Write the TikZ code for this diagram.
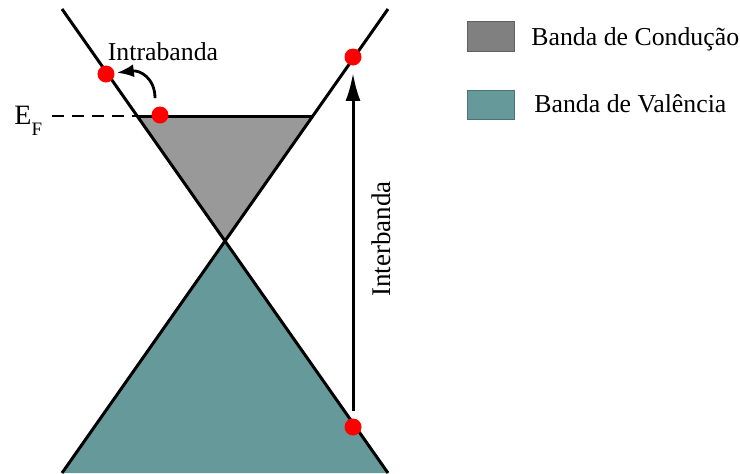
\documentclass[tikz,border=0pt]{standalone}
\usepackage{fontspec}
\setmainfont{Liberation Serif}
\usetikzlibrary{arrows.meta}
\definecolor{condgray}{RGB}{153,153,153}
\definecolor{legendgray}{RGB}{128,128,128}
\definecolor{valteal}{RGB}{102,153,153}

\begin{document}
\begin{tikzpicture}[
  x=0.5pt, y=-0.5pt,
  band/.style={draw=black, line width=1.5pt},
  electron/.style={circle, fill=red, inner sep=0pt, minimum size=8.5pt},
  arrow/.style={-{Latex[length=14pt,width=7.5pt]}, line width=1.5pt},
  smallarrow/.style={-{Latex[length=8.5pt,width=6.5pt]}, line width=1.4pt},
  txt/.style={font=\fontsize{12.9}{15}\selectfont, inner sep=0pt},
  legend/.style={draw=#1!75!black, fill=#1, line width=0.4pt, minimum width=23.5pt, minimum height=14.75pt, inner sep=0pt},
]
\useasboundingbox (0,0) rectangle (740,473);

% cone
\coordinate (vertex) at (225,241);
\coordinate (ltop) at (62,9);
\coordinate (rbot) at (388,473);
\coordinate (rtop) at (388,9);
\coordinate (lbot) at (62,473);
\coordinate (fl) at (137,116);
\coordinate (fr) at (313,116);
\coordinate (fdash) at (52,116);

\fill[condgray] (fl) -- (fr) -- (vertex) -- cycle;
\fill[valteal] (vertex) -- (rbot) -- (lbot) -- cycle;
\draw[band] (ltop) -- (rbot);
\draw[band] (rtop) -- (lbot);
\draw[band] (fl) -- (fr);
\draw[line width=1.2pt, dash pattern=on 6pt off 4pt] (fdash) -- (fl);

\node[txt, anchor=base west, font=\fontsize{14}{15}\selectfont] (efermi) at (14,124) {E\raisebox{-5.5pt}{\fontsize{9.5}{10}\selectfont F}};

% electrons
\node[electron] (intra0) at (106,74) {};
\node[electron] (intra1) at (160,115) {};
\node[electron] (inter1) at (353,57) {};
\node[electron] (inter0) at (353,427) {};

\draw[arrow, shorten <=3.5pt, shorten >=3.5pt] (inter0) -- (inter1);
\draw[smallarrow, shorten <=4pt, shorten >=1pt] ([xshift=-2.5pt]intra1.north) .. controls (155,78) and (140,70) .. (intra0);

\node[txt, anchor=base] (intralabel) at (163,60) {Intrabanda};
\node[txt, anchor=base, rotate=90, font=\fontsize{13.5}{15}\selectfont] (interlabel) at (390,239) {Interbanda};

% legend
\node[legend=legendgray] (condbox) at (490.5,36.5) {};
\node[txt, anchor=base west] (condtext) at (531,45) {Banda de Condução};
\node[legend=valteal] (valbox) at (490.5,105) {};
\node[txt, anchor=base west] (valtext) at (534,112) {Banda de Valência};
\end{tikzpicture}
\end{document}
